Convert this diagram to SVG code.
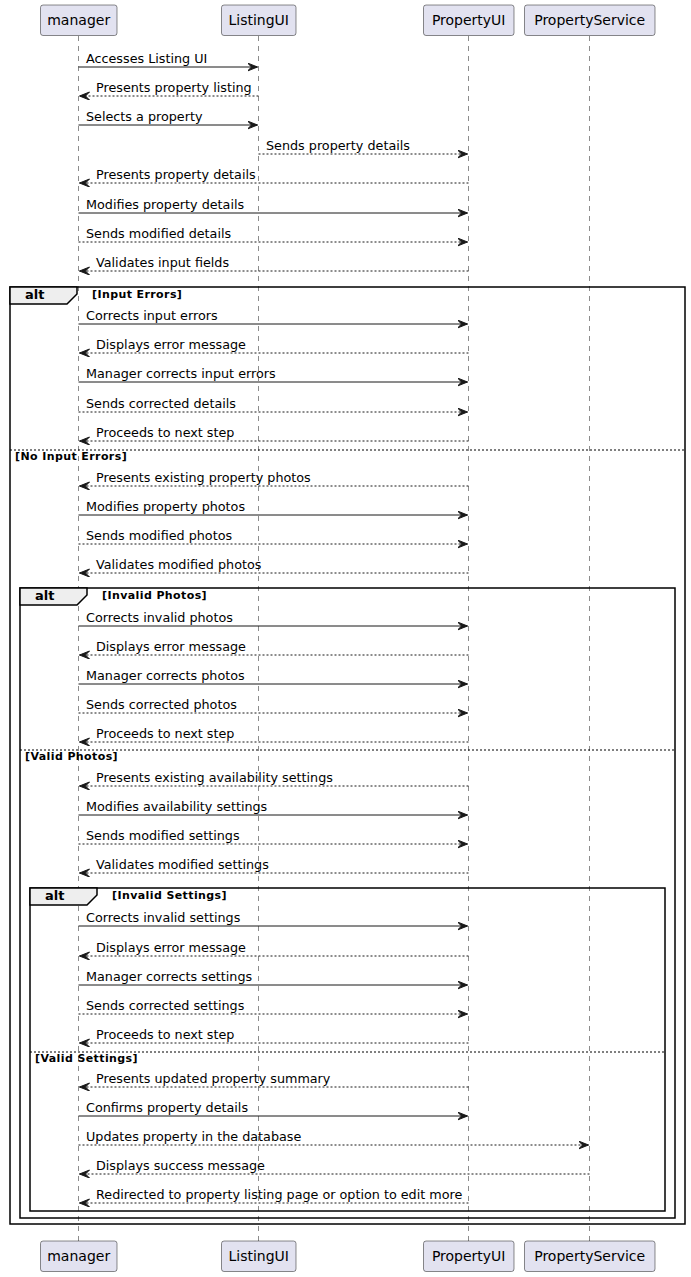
<svg xmlns="http://www.w3.org/2000/svg" width="691" height="1277" viewBox="0 0 691 1277">
<style>
.bg{fill:#FFFFFF}
.life{stroke:#181818;stroke-width:0.5;stroke-dasharray:5,5;fill:none}
.pbox{fill:#E2E2F0;stroke:#181818;stroke-width:0.5}
.ptxt{font-family:"DejaVu Sans",sans-serif;font-size:14px;fill:#000;text-anchor:middle}
.msg{font-family:"DejaVu Sans",sans-serif;font-size:12.75px;fill:#000}
.ln{stroke:#181818;stroke-width:1;fill:none}
.dl{stroke:#181818;stroke-width:1;fill:none;stroke-dasharray:2,2}
.frame{fill:none;stroke:#000;stroke-width:1.5}
.tab{fill:#EEEEEE;stroke:#000;stroke-width:1.5}
.alt{font-family:"DejaVu Sans",sans-serif;font-size:13px;font-weight:bold;fill:#000}
.cond{font-family:"DejaVu Sans",sans-serif;font-size:11px;font-weight:bold;fill:#000;letter-spacing:0.4px}
.sep{stroke:#000;stroke-width:1;stroke-dasharray:2,2;fill:none}
</style>
<defs>
<marker id="ar" markerWidth="12" markerHeight="10" refX="10" refY="4" orient="auto" markerUnits="userSpaceOnUse">
<polygon points="0,0 10,4 0,8 4,4" fill="#181818" stroke="#181818" stroke-width="1"/>
</marker>
</defs>
<rect class="bg" x="0" y="0" width="691" height="1277"/>
<g id="lifelines">
<line class="life" x1="78.5" y1="36" x2="78.5" y2="1241"/>
<line class="life" x1="258.5" y1="36" x2="258.5" y2="1241"/>
<line class="life" x1="468.5" y1="36" x2="468.5" y2="1241"/>
<line class="life" x1="589.5" y1="36" x2="589.5" y2="1241"/>
</g>
<g id="frames">
<g id="alt1">
<rect class="frame" x="10" y="287" width="675" height="937"/>
<path class="tab" d="M10,287 L77,287 L77,294 L67,304 L10,304 Z"/>
<text class="alt" x="25" y="299">alt</text>
<text class="cond" x="92" y="298">[Input Errors]</text>
<line class="sep" x1="10" y1="450" x2="685" y2="450"/>
<text class="cond" x="15" y="460">[No Input Errors]</text>
</g>
<g id="alt2">
<rect class="frame" x="20" y="588" width="655" height="630"/>
<path class="tab" d="M20,588 L87,588 L87,595 L77,605 L20,605 Z"/>
<text class="alt" x="35" y="600">alt</text>
<text class="cond" x="102" y="599">[Invalid Photos]</text>
<line class="sep" x1="20" y1="750" x2="675" y2="750"/>
<text class="cond" x="25" y="760">[Valid Photos]</text>
</g>
<g id="alt3">
<rect class="frame" x="30" y="888" width="635" height="323"/>
<path class="tab" d="M30,888 L97,888 L97,895 L87,905 L30,905 Z"/>
<text class="alt" x="45" y="900">alt</text>
<text class="cond" x="112" y="899">[Invalid Settings]</text>
<line class="sep" x1="30" y1="1052" x2="665" y2="1052"/>
<text class="cond" x="35" y="1062">[Valid Settings]</text>
</g>
</g>
<g id="connectors">
<line class="ln" x1="78.5" y1="67" x2="257.5" y2="67" marker-end="url(#ar)"/>
<text class="msg" x="86" y="62.5">Accesses Listing UI</text>
<line class="dl" x1="258.5" y1="96" x2="79.5" y2="96" marker-end="url(#ar)"/>
<text class="msg" x="96" y="91.5">Presents property listing</text>
<line class="ln" x1="78.5" y1="125" x2="257.5" y2="125" marker-end="url(#ar)"/>
<text class="msg" x="86" y="120.5">Selects a property</text>
<line class="dl" x1="258.5" y1="154" x2="467.5" y2="154" marker-end="url(#ar)"/>
<text class="msg" x="266" y="149.5">Sends property details</text>
<line class="dl" x1="468.5" y1="183" x2="79.5" y2="183" marker-end="url(#ar)"/>
<text class="msg" x="96" y="178.5">Presents property details</text>
<line class="ln" x1="78.5" y1="213" x2="467.5" y2="213" marker-end="url(#ar)"/>
<text class="msg" x="86" y="208.5">Modifies property details</text>
<line class="dl" x1="78.5" y1="242" x2="467.5" y2="242" marker-end="url(#ar)"/>
<text class="msg" x="86" y="237.5">Sends modified details</text>
<line class="dl" x1="468.5" y1="271" x2="79.5" y2="271" marker-end="url(#ar)"/>
<text class="msg" x="96" y="266.5">Validates input fields</text>

<line class="ln" x1="78.5" y1="324" x2="467.5" y2="324" marker-end="url(#ar)"/>
<text class="msg" x="86" y="319.5">Corrects input errors</text>
<line class="dl" x1="468.5" y1="353" x2="79.5" y2="353" marker-end="url(#ar)"/>
<text class="msg" x="96" y="348.5">Displays error message</text>
<line class="ln" x1="78.5" y1="382" x2="467.5" y2="382" marker-end="url(#ar)"/>
<text class="msg" x="86" y="377.5">Manager corrects input errors</text>
<line class="dl" x1="78.5" y1="412" x2="467.5" y2="412" marker-end="url(#ar)"/>
<text class="msg" x="86" y="407.5">Sends corrected details</text>
<line class="dl" x1="468.5" y1="441" x2="79.5" y2="441" marker-end="url(#ar)"/>
<text class="msg" x="96" y="436.5">Proceeds to next step</text>

<line class="dl" x1="468.5" y1="486" x2="79.5" y2="486" marker-end="url(#ar)"/>
<text class="msg" x="96" y="481.5">Presents existing property photos</text>
<line class="ln" x1="78.5" y1="515" x2="467.5" y2="515" marker-end="url(#ar)"/>
<text class="msg" x="86" y="510.5">Modifies property photos</text>
<line class="dl" x1="78.5" y1="544" x2="467.5" y2="544" marker-end="url(#ar)"/>
<text class="msg" x="86" y="539.5">Sends modified photos</text>
<line class="dl" x1="468.5" y1="573" x2="79.5" y2="573" marker-end="url(#ar)"/>
<text class="msg" x="96" y="568.5">Validates modified photos</text>

<line class="ln" x1="78.5" y1="626" x2="467.5" y2="626" marker-end="url(#ar)"/>
<text class="msg" x="86" y="621.5">Corrects invalid photos</text>
<line class="dl" x1="468.5" y1="655" x2="79.5" y2="655" marker-end="url(#ar)"/>
<text class="msg" x="96" y="650.5">Displays error message</text>
<line class="ln" x1="78.5" y1="684" x2="467.5" y2="684" marker-end="url(#ar)"/>
<text class="msg" x="86" y="679.5">Manager corrects photos</text>
<line class="dl" x1="78.5" y1="713" x2="467.5" y2="713" marker-end="url(#ar)"/>
<text class="msg" x="86" y="708.5">Sends corrected photos</text>
<line class="dl" x1="468.5" y1="742" x2="79.5" y2="742" marker-end="url(#ar)"/>
<text class="msg" x="96" y="737.5">Proceeds to next step</text>

<line class="dl" x1="468.5" y1="786" x2="79.5" y2="786" marker-end="url(#ar)"/>
<text class="msg" x="96" y="781.5">Presents existing availability settings</text>
<line class="ln" x1="78.5" y1="815" x2="467.5" y2="815" marker-end="url(#ar)"/>
<text class="msg" x="86" y="810.5">Modifies availability settings</text>
<line class="dl" x1="78.5" y1="844" x2="467.5" y2="844" marker-end="url(#ar)"/>
<text class="msg" x="86" y="839.5">Sends modified settings</text>
<line class="dl" x1="468.5" y1="873" x2="79.5" y2="873" marker-end="url(#ar)"/>
<text class="msg" x="96" y="868.5">Validates modified settings</text>

<line class="ln" x1="78.5" y1="926" x2="467.5" y2="926" marker-end="url(#ar)"/>
<text class="msg" x="86" y="921.5">Corrects invalid settings</text>
<line class="dl" x1="468.5" y1="956" x2="79.5" y2="956" marker-end="url(#ar)"/>
<text class="msg" x="96" y="951.5">Displays error message</text>
<line class="ln" x1="78.5" y1="985" x2="467.5" y2="985" marker-end="url(#ar)"/>
<text class="msg" x="86" y="980.5">Manager corrects settings</text>
<line class="dl" x1="78.5" y1="1014" x2="467.5" y2="1014" marker-end="url(#ar)"/>
<text class="msg" x="86" y="1009.5">Sends corrected settings</text>
<line class="dl" x1="468.5" y1="1043" x2="79.5" y2="1043" marker-end="url(#ar)"/>
<text class="msg" x="96" y="1038.5">Proceeds to next step</text>

<line class="dl" x1="468.5" y1="1087" x2="79.5" y2="1087" marker-end="url(#ar)"/>
<text class="msg" x="96" y="1082.5">Presents updated property summary</text>
<line class="ln" x1="78.5" y1="1116" x2="467.5" y2="1116" marker-end="url(#ar)"/>
<text class="msg" x="86" y="1111.5">Confirms property details</text>
<line class="dl" x1="78.5" y1="1145" x2="588.5" y2="1145" marker-end="url(#ar)"/>
<text class="msg" x="86" y="1140.5">Updates property in the database</text>
<line class="dl" x1="589.5" y1="1174" x2="79.5" y2="1174" marker-end="url(#ar)"/>
<text class="msg" x="96" y="1169.5">Displays success message</text>
<line class="dl" x1="468.5" y1="1203" x2="79.5" y2="1203" marker-end="url(#ar)"/>
<text class="msg" x="96" y="1198.5">Redirected to property listing page or option to edit more</text>
</g>
<g id="manager">
<rect class="pbox" x="40.5" y="5" width="76.5" height="30.5" rx="2.5"/>
<text class="ptxt" x="78.7" y="25">manager</text>
<rect class="pbox" x="40.5" y="1241" width="76.5" height="30.5" rx="2.5"/>
<text class="ptxt" x="78.7" y="1261">manager</text>
</g>
<g id="ListingUI">
<rect class="pbox" x="221.5" y="5" width="74.5" height="30.5" rx="2.5"/>
<text class="ptxt" x="258.7" y="25">ListingUI</text>
<rect class="pbox" x="221.5" y="1241" width="74.5" height="30.5" rx="2.5"/>
<text class="ptxt" x="258.7" y="1261">ListingUI</text>
</g>
<g id="PropertyUI">
<rect class="pbox" x="423.5" y="5" width="90.5" height="30.5" rx="2.5"/>
<text class="ptxt" x="468.7" y="25">PropertyUI</text>
<rect class="pbox" x="423.5" y="1241" width="90.5" height="30.5" rx="2.5"/>
<text class="ptxt" x="468.7" y="1261">PropertyUI</text>
</g>
<g id="PropertyService">
<rect class="pbox" x="524.5" y="5" width="130.5" height="30.5" rx="2.5"/>
<text class="ptxt" x="589.7" y="25">PropertyService</text>
<rect class="pbox" x="524.5" y="1241" width="130.5" height="30.5" rx="2.5"/>
<text class="ptxt" x="589.7" y="1261">PropertyService</text>
</g>
</svg>
